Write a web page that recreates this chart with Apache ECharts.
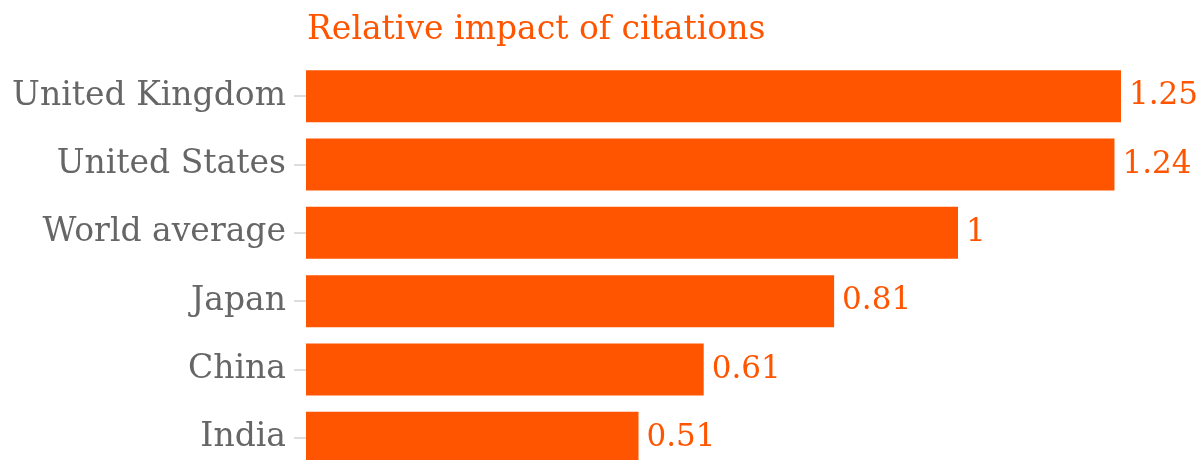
<!DOCTYPE html>
<html>
<head>
<meta charset="utf-8">
<script src="https://cdn.jsdelivr.net/npm/echarts@6/dist/echarts.min.js"></script>
<style>
html,body{margin:0;padding:0;background:#fff;width:1199px;height:460px;overflow:hidden;}
#chart{width:1199px;height:480px;}
</style>
</head>
<body>
<div id="chart"></div>
<script>
var categories = ["United Kingdom", "United States", "World average", "Japan", "China", "India"];
var values = [1.25, 1.24, 1, 0.81, 0.61, 0.51];
var titleText = "Relative impact of citations";

var chart = echarts.init(document.getElementById('chart'));
var font = '"DejaVu Serif", serif';
chart.setOption({
  animation: false,
  title: {
    text: titleText,
    left: 302,
    top: 9,
    textStyle: {color: '#FF5500', fontSize: 33, fontWeight: 'normal', fontFamily: font}
  },
  grid: {left: 306, right: 78, top: 62, height: 410, containLabel: false},
  xAxis: {
    type: 'value', min: 0, max: 1.25, show: false
  },
  yAxis: {
    type: 'category',
    data: categories,
    inverse: true,
    axisLine: {show: false},
    axisTick: {show: true, alignWithLabel: true, length: 12, lineStyle: {color: '#dddddd', width: 2}},
    axisLabel: {color: '#666666', fontSize: 33, fontFamily: font, margin: 20}
  },
  series: [{
    type: 'bar',
    data: values,
    barCategoryGap: '24%',
    itemStyle: {color: '#FF5500'},
    label: {
      show: true, position: 'right', distance: 8,
      color: '#FF5500', fontSize: 31, fontFamily: font
    }
  }]
});
</script>
</body>
</html>
